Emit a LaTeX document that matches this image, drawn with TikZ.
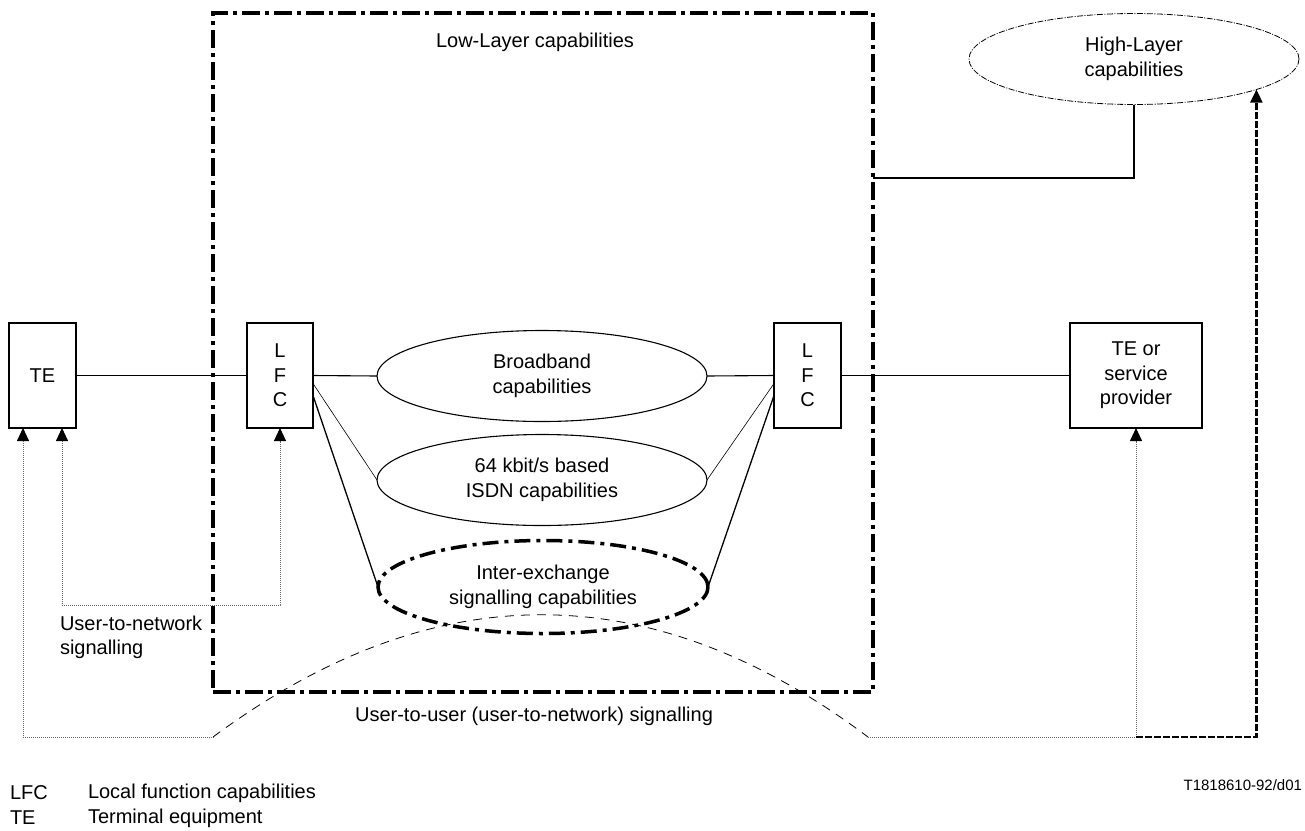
\documentclass[tikz,border=0pt]{standalone}
\usepackage{fontspec}
\setmainfont{Liberation Sans}
\usetikzlibrary{shapes.geometric,arrows.meta}
\tikzset{tri/.tip={Triangle[length=13pt,width=12pt,color=black]}}
\begin{document}
\begin{tikzpicture}[x=1pt,y=-1pt,
  every node/.style={font=\fontsize{20}{24.5}\selectfont, inner sep=0pt, outer sep=0pt},
  box/.style={draw, line width=1.3pt, minimum height=105pt, align=center},
  ell/.style={ellipse, draw, line width=1.1pt, minimum width=330pt, minimum height=91pt, align=center},
  bigdashdot/.style={line width=4pt, dash pattern=on 18pt off 5pt on 4pt off 5pt},
  ovaldashdot/.style={line width=3.5pt, dash pattern=on 16pt off 6pt on 4pt off 6pt},
  thindashdot/.style={line width=0.8pt, dash pattern=on 6pt off 1.5pt on 1pt off 1.5pt},
  dotsig/.style={draw=black!60, line width=0.9pt, dash pattern=on 1pt off 1pt},
  conn/.style={line width=1.1pt},
]
\useasboundingbox (0,0) rectangle (1305,830);

% big low-layer frame
\node[draw, bigdashdot, minimum width=660pt, minimum height=679pt] (low) at (543,352.5) {};
\node (lowlbl) at (535,42) {Low-Layer capabilities};

% high-layer ellipse
\node[ell, thindashdot] (hl) at (1134,59) {High-Layer\\capabilities};

% boxes
\node[box, minimum width=67pt] (te) at (42.5,375.5) {TE};
\node[box, minimum width=66pt] (lfcL) at (280,375.5) {L\\F\\C};
\node[box, minimum width=67pt] (lfcR) at (807.5,375.5) {L\\F\\C};
\node[box, minimum width=132pt] (tesp) at (1136,375.5) {TE or\\service\\provider};

% capability ellipses
\node[ell] (bb) at (542,376) {Broadband\\capabilities};
\node[ell] (isdn) at (542,480) {64 kbit/s based\\ISDN capabilities};
\node[ell, ovaldashdot, minimum height=93pt] (iex) at (543,587) {Inter-exchange\\signalling capabilities};

% connectors
\draw[conn] (te) -- (lfcL);
\draw[conn] (lfcL.east) -- (bb.west);
\draw[conn] (bb.east) -- (lfcR.west);
\draw[conn] (lfcR.east) -- (tesp.west);
\draw[line width=0.6pt] ([yshift=-8]lfcL.east) -- (isdn.west);
\draw[line width=1.3pt] ([yshift=-20]lfcL.east) -- (iex.west);
\draw[line width=0.6pt] ([yshift=-8]lfcR.west) -- (isdn.east);
\draw[line width=1.3pt] ([yshift=-20]lfcR.west) -- (iex.east);
\draw[conn] ([yshift=174.5]low.east) -| (hl.south);

% signalling paths
\coordinate (a0) at (213,737);
\coordinate (a1) at (868,737);
\draw[dotsig, {tri}-{tri}] ([xshift=19.5]te.south) -- ++(0,177) -| (lfcL.south);
\draw[dotsig, {tri}-] ([xshift=-19.5]te.south) |- (a0);
\draw[line width=0.8pt, dash pattern=on 9pt off 7pt] (a0) .. controls (433,574) and (651,574) .. (a1);
\draw[dotsig, -{tri}] (a1) -| (tesp.south);
\draw[line width=2.2pt, dash pattern=on 7pt off 2pt, -{tri}] (tesp.south |- a1) -| (hl.-14);

% labels
\node[anchor=west, align=left] (u2n) at (60,637.5) {User-to-network\\signalling};
\node (u2u) at (534,716) {User-to-user (user-to-network) signalling};
\node[anchor=east, font=\fontsize{15}{18}\selectfont] (ref) at (1302,785) {T1818610-92/d01};

% legend
\node[anchor=west] (k1) at (10,793) {LFC};
\node[anchor=west] (v1) at (88,793) {Local function capabilities};
\node[anchor=west] (k2) at (10,818) {TE};
\node[anchor=west] (v2) at (88,818) {Terminal equipment};
\end{tikzpicture}
\end{document}
